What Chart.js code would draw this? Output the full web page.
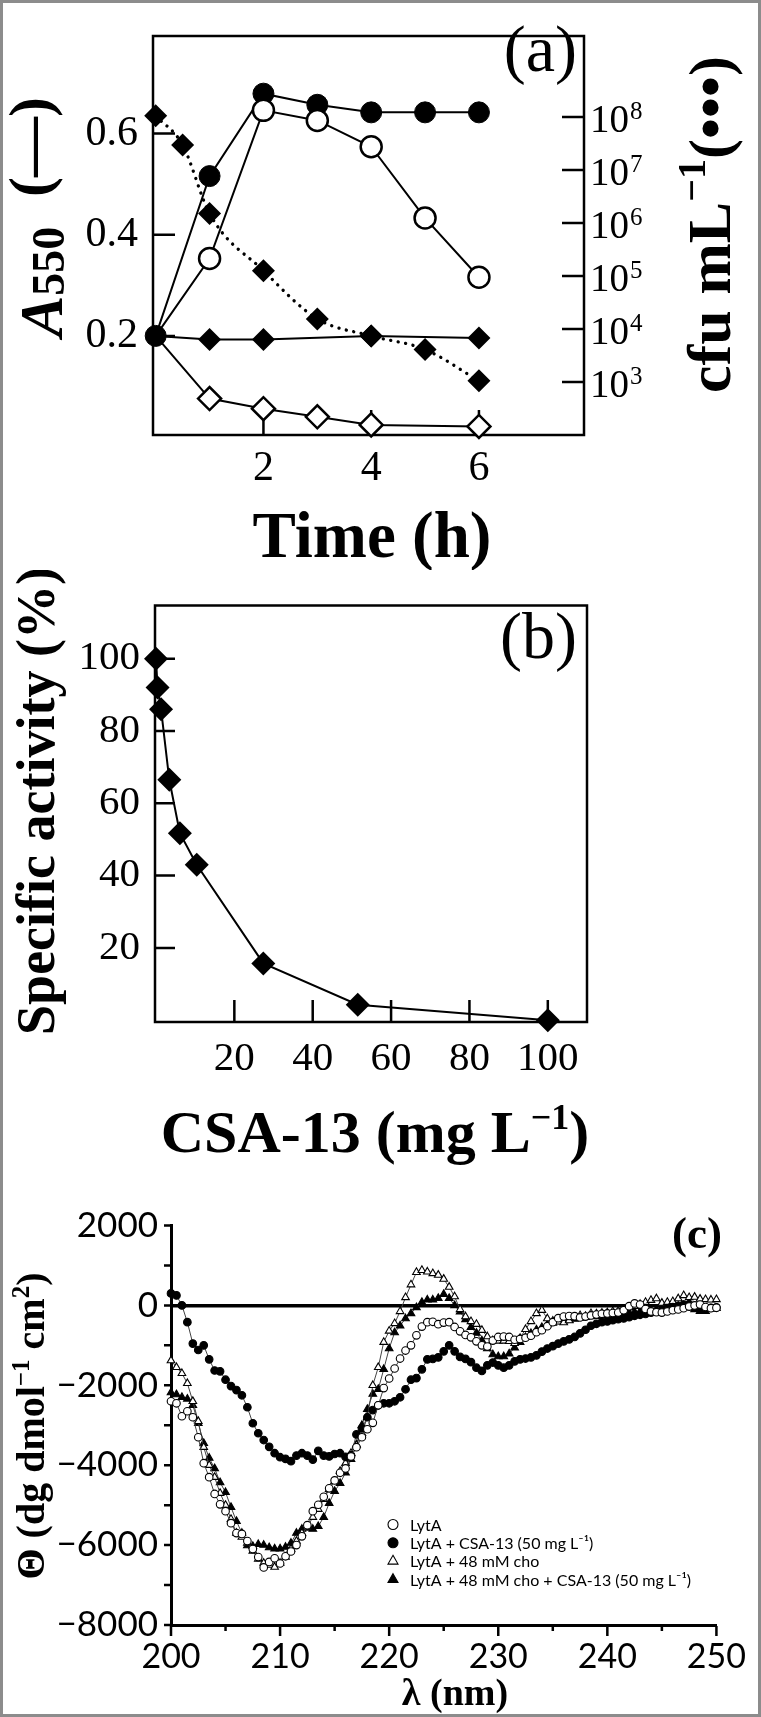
<!DOCTYPE html>
<html>
<head>
<meta charset="utf-8">
<script src="https://cdn.jsdelivr.net/npm/chart.js@4.4.1/dist/chart.umd.min.js"></script>
<style>
html,body{margin:0;padding:0;background:#fff;}
#wrap{position:relative;width:761px;height:1717px;overflow:hidden;background:#fff;}
canvas{position:absolute;left:0;}
#frame{position:absolute;left:0;top:0;width:761px;height:1717px;box-sizing:border-box;border:3px solid #8c8c8c;pointer-events:none;}
</style>
</head>
<body>
<div id="wrap">
<canvas id="ca" width="761" height="570" style="top:0px;width:761px;height:570px"></canvas>
<canvas id="cb" width="761" height="625" style="top:570px;width:761px;height:625px"></canvas>
<canvas id="cc" width="761" height="522" style="top:1195px;width:761px;height:522px"></canvas>
<div id="frame"></div>
</div>
<script>
// ---------------- Panel (a) data ----------------
const timeCircles = [0, 1, 2, 3, 4, 5, 6];
const a550FilledCircles = [0.2, 0.516, 0.679, 0.657, 0.642, 0.642, 0.642];
const a550OpenCircles = [0.2, 0.353, 0.646, 0.626, 0.574, 0.433, 0.316];
const timeSolidDiamonds = [0, 1, 2, 4, 6];
const a550SolidDiamonds = [0.2, 0.193, 0.193, 0.2, 0.196];
const timeOpenDiamonds = [0, 1, 2, 3, 4, 6];
const a550OpenDiamonds = [0.2, 0.076, 0.056, 0.040, 0.024, 0.021];
const timeCfu = [0, 0.5, 1, 2, 3, 4, 5, 6];
const cfuValues = [1.05e8, 2.95e7, 1.5e6, 1.26e5, 1.55e4, 7.4e3, 4.1e3, 1.05e3];
const timeTicks = [2, 4, 6];
const a550Ticks = [0.2, 0.4, 0.6];
const cfuTicks = [1e3, 1e4, 1e5, 1e6, 1e7, 1e8];

// ---------------- Panel (b) data ----------------
const csaConc = [0, 0.4, 1.3, 3.4, 6.1, 10.4, 27.4, 51.5, 100];
const specActivity = [100, 92, 86, 66.5, 51.7, 43, 15.7, 4.3, 0];
const csaTicks = [20, 40, 60, 80, 100];
const activityTicks = [20, 40, 60, 80, 100];

// ---------------- Panel (c) data ----------------
const wavelengths = [
200,200.5,201,201.5,202,202.5,203,203.5,204,204.5,
205,205.5,206,206.5,207,207.5,208,208.5,209,209.5,
210,210.5,211,211.5,212,212.5,213,213.5,214,214.5,
215,215.5,216,216.5,217,217.5,218,218.5,219,219.5,
220,220.5,221,221.5,222,222.5,223,223.5,224,224.5,
225,225.5,226,226.5,227,227.5,228,228.5,229,229.5,
230,230.5,231,231.5,232,232.5,233,233.5,234,234.5,
235,235.5,236,236.5,237,237.5,238,238.5,239,239.5,
240,240.5,241,241.5,242,242.5,243,243.5,244,244.5,
245,245.5,246,246.5,247,247.5,248,248.5,249,249.5,
250];
const thetaLytA = [
-2400,-2450,-2775,-2650,-2800,-3300,-3950,-4300,-4720,-4980,
-5150,-5450,-5700,-5720,-5900,-6100,-6300,-6560,-6420,-6330,
-6460,-6280,-6160,-6000,-5780,-5500,-5150,-4990,-4790,-4580,
-4380,-4190,-4080,-3780,-3550,-3300,-3100,-2940,-2500,-2070,
-1830,-1580,-1330,-1130,-1000,-750,-530,-420,-410,-470,
-430,-420,-540,-650,-740,-800,-900,-1000,-1030,-880,
-790,-780,-790,-860,-840,-810,-760,-670,-620,-520,
-420,-320,-280,-265,-270,-300,-280,-250,-230,-210,
-200,-190,-180,-120,-20,50,20,-90,-150,-170,
-180,-150,-120,-100,-70,-30,0,20,-40,-70,
-60];
const thetaLytACsa = [
300,250,0,-420,-955,-1116,-1000,-1350,-1630,-1650,
-1860,-2020,-2120,-2250,-2550,-2950,-3200,-3370,-3540,-3700,
-3800,-3840,-3900,-3760,-3700,-3760,-3860,-3640,-3760,-3780,
-3720,-3700,-3790,-3750,-3230,-3080,-2800,-2620,-2500,-2450,
-2450,-2400,-2300,-2100,-1860,-1820,-1600,-1350,-1340,-1300,
-1150,-1000,-1150,-1290,-1340,-1420,-1560,-1640,-1500,-1430,
-1500,-1560,-1500,-1400,-1350,-1330,-1300,-1250,-1157,-1080,
-1020,-955,-900,-850,-790,-700,-610,-510,-460,-420,
-400,-370,-345,-324,-295,-260,-235,-215,-180,-146,
-120,-80,-45,-10,20,30,-20,-70,-75,-60,
-50];
const thetaLytACho = [
-1380,-1550,-1700,-1950,-2400,-2900,-3550,-4000,-4300,-4700,
-5000,-5350,-5700,-5800,-5950,-6150,-6350,-6450,-6500,-6550,
-6450,-6300,-6100,-5900,-5700,-5550,-5300,-5100,-4850,-4600,
-4400,-4150,-3950,-3700,-3500,-3200,-2800,-2000,-1550,-920,
-640,-450,-150,200,520,830,880,840,800,760,
660,460,220,-100,-280,-400,-470,-620,-780,-880,
-890,-890,-900,-950,-820,-600,-400,-200,-120,-330,
-390,-410,-430,-380,-300,-250,-270,-200,-210,-190,
-180,-150,-140,-100,-60,-20,30,80,130,170,
60,80,100,170,250,200,210,160,150,140,
150];
const thetaLytAChoCsa = [
-2180,-2230,-2300,-2340,-2500,-2950,-3450,-3820,-4080,-4430,
-4680,-5050,-5400,-5700,-6010,-6030,-5980,-6000,-6060,-6090,
-6090,-6050,-5950,-5700,-5600,-5570,-5600,-5530,-5300,-4950,
-4650,-4450,-4190,-3850,-3480,-3000,-2600,-2220,-2100,-1600,
-1080,-680,-510,-330,-200,-50,80,140,140,180,
280,180,0,-160,-350,-550,-690,-880,-1080,-1230,
-1280,-1280,-1210,-1060,-920,-800,-700,-610,-550,-480,
-440,-405,-385,-370,-340,-315,-295,-280,-270,-255,
-243,-225,-208,-195,-180,-165,-155,-145,-130,-113,
-85,-60,-35,-20,0,-40,-100,-146,-146,-90,
-70];
const seriesLabels = ['LytA', 'LytA + CSA-13 (50 mg L\u207B\u00B9)', 'LytA + 48 mM cho', 'LytA + 48 mM cho + CSA-13 (50 mg L\u207B\u00B9)'];

// ---------------- helpers ----------------
const SERIF = '"Liberation Serif", "Times New Roman", serif';
const SANS = 'Lato, "Open Sans", "Liberation Sans", sans-serif';
function fnt(size, weight, style, fam) {
  return (style || 'normal') + ' ' + (weight || 'normal') + ' ' + size + 'px ' + (fam || SERIF);
}
function xy(xs, ys) { return xs.map((x, i) => ({x: x, y: ys[i]})); }
function drawPieces(ctx, x, y, angle, pieces, align) {
  ctx.save();
  ctx.translate(x, y);
  ctx.rotate(angle);
  ctx.textBaseline = 'alphabetic';
  ctx.textAlign = 'left';
  ctx.fillStyle = '#000';
  let total = 0;
  pieces.forEach(p => { ctx.font = p.f; p.w = ctx.measureText(p.t).width; total += p.w + (p.gap || 0); });
  let cx = align === 'center' ? -total / 2 : 0;
  pieces.forEach(p => { ctx.font = p.f; ctx.fillText(p.t, cx, p.dy || 0); cx += p.w + (p.gap || 0); });
  ctx.restore();
}
function fixedTicks(arr) { return s => { s.ticks = arr.map(v => ({value: v})); }; }

Chart.defaults.font.family = SERIF;
Chart.defaults.color = '#000';
const common = {
  responsive: false, animation: false, devicePixelRatio: 1, events: [],
  plugins: {legend: {display: false}, tooltip: {enabled: false}}
};
const noGrid = {display: false, drawTicks: false};
const noBorder = {display: false};

// ---------------- Panel (a) ----------------
const panelAPlugin = {
  id: 'panelA',
  beforeDatasetsDraw(chart) {
    const {ctx, chartArea: ca, scales} = chart;
    ctx.save();
    ctx.strokeStyle = '#000';
    ctx.lineWidth = 2.5;
    ctx.beginPath();
    a550Ticks.forEach(v => { const y = scales.y.getPixelForValue(v); ctx.moveTo(ca.left, y); ctx.lineTo(ca.left + 22, y); });
    cfuTicks.forEach(v => { const y = scales.y2.getPixelForValue(v); ctx.moveTo(ca.right, y); ctx.lineTo(ca.right - 22, y); });
    timeTicks.forEach(v => { const x = scales.x.getPixelForValue(v); ctx.moveTo(x, ca.bottom); ctx.lineTo(x, ca.bottom - 25); });
    ctx.stroke();
    ctx.strokeRect(ca.left, ca.top, ca.right - ca.left, ca.bottom - ca.top);
    ctx.restore();
  },
  afterDraw(chart) {
    const {ctx, scales} = chart;
    ctx.save();
    ctx.fillStyle = '#000';
    ctx.textAlign = 'left';
    ctx.textBaseline = 'alphabetic';
    cfuTicks.forEach(v => {
      const y = scales.y2.getPixelForValue(v);
      const e = Math.round(Math.log10(v));
      ctx.font = fnt(39);
      ctx.fillText('10', 590, y + 15);
      const w = ctx.measureText('10').width;
      ctx.font = fnt(25);
      ctx.fillText(String(e), 590 + w + 1, y + 2);
    });
    ctx.font = fnt(66);
    ctx.textAlign = 'right';
    ctx.fillText('(a)', 577, 71);
    ctx.restore();
    drawPieces(ctx, 62, 337, -Math.PI / 2, [
      {t: 'A', f: fnt(62, 'bold', 'italic')},
      {t: '550', f: fnt(46, 'bold'), dy: 2}
    ]);
    drawPieces(ctx, 50, 197, -Math.PI / 2, [{t: '(\u2014)', f: fnt(60, 'bold')}]);
    drawPieces(ctx, 730, 393, -Math.PI / 2, [
      {t: 'cfu mL', f: fnt(62, 'bold')},
      {t: '\u22121', f: fnt(40, 'bold'), dy: -25},
      {t: '(\u2022\u2022\u2022)', f: fnt(60, 'bold')}
    ]);
    drawPieces(ctx, 372, 557, 0, [{t: 'Time (h)', f: fnt(65, 'bold')}], 'center');
  }
};

const markerA = {borderColor: '#000', borderWidth: 2, clip: false, tension: 0};
new Chart(document.getElementById('ca'), {
  type: 'line',
  data: {datasets: [
    Object.assign({label: 'open circles', data: xy(timeCircles, a550OpenCircles), yAxisID: 'y',
      pointStyle: 'circle', pointRadius: c => c.dataIndex === 0 ? 0 : 10.5,
      pointBackgroundColor: '#fff', pointBorderColor: '#000', pointBorderWidth: 2.5}, markerA),
    Object.assign({label: 'filled circles', data: xy(timeCircles, a550FilledCircles), yAxisID: 'y',
      pointStyle: 'circle', pointRadius: 10.5,
      pointBackgroundColor: '#000', pointBorderColor: '#000', pointBorderWidth: 1}, markerA),
    {label: 'cfu', data: xy(timeCfu, cfuValues), yAxisID: 'y2', clip: false,
      borderColor: '#000', borderWidth: 3.3, borderDash: [0.1, 7.5], borderCapStyle: 'round',
      cubicInterpolationMode: 'monotone',
      pointStyle: 'rectRot', pointRadius: 11.5, pointBackgroundColor: '#000', pointBorderColor: '#000', pointBorderWidth: 0},
    Object.assign({label: 'solid diamonds', data: xy(timeSolidDiamonds, a550SolidDiamonds), yAxisID: 'y',
      pointStyle: 'rectRot', pointRadius: c => c.dataIndex === 0 ? 0 : 11.5,
      pointBackgroundColor: '#000', pointBorderColor: '#000', pointBorderWidth: 0}, markerA),
    Object.assign({label: 'open diamonds', data: xy(timeOpenDiamonds, a550OpenDiamonds), yAxisID: 'y',
      pointStyle: 'rectRot', pointRadius: c => c.dataIndex === 0 ? 0 : 11.5,
      pointBackgroundColor: '#fff', pointBorderColor: '#000', pointBorderWidth: 2.5}, markerA)
  ]},
  options: Object.assign({}, common, {
    layout: {padding: {top: 6, left: 0, right: 0, bottom: 0}},
    scales: {
      x: {type: 'linear', position: 'bottom', min: -0.05, max: 7.95, grid: noGrid, border: noBorder,
        afterBuildTicks: fixedTicks(timeTicks), afterFit: s => { s.height = 135; },
        ticks: {font: {family: SERIF, size: 42, lineHeight: 1}, padding: 13, color: '#000', autoSkip: false, maxRotation: 0}},
      y: {type: 'linear', position: 'left', min: 0.004, max: 0.793, grid: noGrid, border: noBorder,
        afterBuildTicks: fixedTicks(a550Ticks), afterFit: s => { s.width = 153; },
        ticks: {font: {family: SERIF, size: 42, lineHeight: 1}, padding: 15, color: '#000', autoSkip: false,
          callback: v => v.toFixed(1)}},
      y2: {type: 'logarithmic', position: 'right', min: 1e2, max: 3.357e9, grid: noGrid, border: noBorder,
        ticks: {display: false}, afterFit: s => { s.width = 177; }}
    }
  }),
  plugins: [panelAPlugin]
});

// ---------------- Panel (b) ----------------
const OB = 570;
const panelBPlugin = {
  id: 'panelB',
  beforeDatasetsDraw(chart) {
    const {ctx, chartArea: ca, scales} = chart;
    ctx.save();
    ctx.strokeStyle = '#000';
    ctx.lineWidth = 2.5;
    ctx.beginPath();
    activityTicks.forEach(v => { const y = scales.y.getPixelForValue(v); ctx.moveTo(ca.left, y); ctx.lineTo(ca.left + 20, y); });
    csaTicks.forEach(v => { const x = scales.x.getPixelForValue(v); ctx.moveTo(x, ca.bottom); ctx.lineTo(x, ca.bottom - 22); });
    ctx.stroke();
    ctx.strokeRect(ca.left, ca.top, ca.right - ca.left, ca.bottom - ca.top);
    ctx.restore();
  },
  afterDraw(chart) {
    const ctx = chart.ctx;
    ctx.save();
    ctx.fillStyle = '#000';
    ctx.font = fnt(66);
    ctx.textAlign = 'right';
    ctx.textBaseline = 'alphabetic';
    ctx.fillText('(b)', 577, 658 - OB);
    ctx.restore();
    drawPieces(ctx, 54, 801 - OB, -Math.PI / 2, [{t: 'Specific activity (%)', f: fnt(54, 'bold')}], 'center');
    drawPieces(ctx, 375, 1152 - OB, 0, [
      {t: 'CSA-13 (mg L', f: fnt(60, 'bold')},
      {t: '\u22121', f: fnt(36, 'bold'), dy: -23},
      {t: ')', f: fnt(60, 'bold')}
    ], 'center');
  }
};
new Chart(document.getElementById('cb'), {
  type: 'line',
  data: {datasets: [
    {label: 'specific activity', data: xy(csaConc, specActivity), clip: false, tension: 0,
      borderColor: '#000', borderWidth: 2,
      pointStyle: 'rectRot', pointRadius: 12, pointBackgroundColor: '#000', pointBorderColor: '#000', pointBorderWidth: 0}
  ]},
  options: Object.assign({}, common, {
    layout: {padding: {top: 23, left: 0, right: 174, bottom: 0}},
    scales: {
      x: {type: 'linear', position: 'bottom', min: -0.25, max: 110, grid: noGrid, border: noBorder,
        afterBuildTicks: fixedTicks(csaTicks), afterFit: s => { s.height = 173; },
        ticks: {font: {family: SERIF, size: 41, lineHeight: 1}, padding: 17, color: '#000', autoSkip: false, maxRotation: 0}},
      y: {type: 'linear', position: 'left', min: -0.5, max: 114.7, grid: noGrid, border: noBorder,
        afterBuildTicks: fixedTicks(activityTicks), afterFit: s => { s.width = 155; },
        ticks: {font: {family: SERIF, size: 41, lineHeight: 1}, padding: 15, color: '#000', autoSkip: false}}
    }
  }),
  plugins: [panelBPlugin]
});

// ---------------- Panel (c) ----------------
const OC = 1195;
function drawMarker(ctx, style, filled, x, y, r) {
  ctx.save();
  ctx.beginPath();
  if (style === 'circle') {
    ctx.arc(x, y, r, 0, Math.PI * 2);
  } else {
    ctx.moveTo(x, y - r * 1.15);
    ctx.lineTo(x + r, y + r * 0.6);
    ctx.lineTo(x - r, y + r * 0.6);
    ctx.closePath();
  }
  ctx.fillStyle = filled ? '#000' : '#fff';
  ctx.fill();
  ctx.lineWidth = 1.1;
  ctx.strokeStyle = '#000';
  ctx.stroke();
  ctx.restore();
}
const panelCPlugin = {
  id: 'panelC',
  beforeDatasetsDraw(chart) {
    const {ctx, chartArea: ca, scales} = chart;
    ctx.save();
    ctx.strokeStyle = '#000';
    ctx.lineWidth = 2.5;
    ctx.beginPath();
    scales.y.ticks.forEach(t => { const y = scales.y.getPixelForValue(t.value); ctx.moveTo(ca.left - 1, y); ctx.lineTo(ca.left - 7, y); });
    scales.x.ticks.forEach(t => {
      const x = scales.x.getPixelForValue(t.value);
      const len = t.value % 10 === 0 ? 11 : 6;
      ctx.moveTo(x, ca.bottom + 1); ctx.lineTo(x, ca.bottom + len);
    });
    ctx.stroke();
    ctx.restore();
  },
  afterDraw(chart) {
    const ctx = chart.ctx;
    ctx.save();
    ctx.fillStyle = '#000';
    ctx.font = fnt(45, 'bold');
    ctx.textAlign = 'right';
    ctx.textBaseline = 'alphabetic';
    ctx.fillText('(c)', 722, 1248 - OC);
    // legend
    ctx.font = '16px ' + SANS;
    ctx.textAlign = 'left';
    ctx.textBaseline = 'middle';
    chart.data.datasets.forEach((ds, i) => {
      const y = 1524.5 - OC + i * 18.3;
      drawMarker(ctx, ds.pointStyle, ds.pointBackgroundColor === '#000', 393, y, 5);
      ctx.fillStyle = '#000';
      ctx.fillText(ds.label, 410, y + 1);
    });
    ctx.restore();
    drawPieces(ctx, 44, 1426 - OC, -Math.PI / 2, [
      {t: '\u0398 (dg dmol', f: fnt(40, 'bold')},
      {t: '\u22121', f: fnt(25, 'bold'), dy: -15},
      {t: ' cm', f: fnt(40, 'bold')},
      {t: '2', f: fnt(25, 'bold'), dy: -15},
      {t: ')', f: fnt(40, 'bold')}
    ], 'center');
    drawPieces(ctx, 455, 1705 - OC, 0, [{t: '\u03BB (nm)', f: fnt(38, 'bold')}], 'center');
  }
};
function cdProps(style, filled) {
  return {
    clip: false, tension: 0, borderColor: '#444', borderWidth: 1,
    pointStyle: style, pointRadius: style === 'triangle' ? 4.4 : 3.8,
    pointBackgroundColor: filled ? '#000' : '#fff', pointBorderColor: '#000', pointBorderWidth: 1.1
  };
}
new Chart(document.getElementById('cc'), {
  type: 'line',
  data: {datasets: [
    Object.assign({label: seriesLabels[0], data: xy(wavelengths, thetaLytA)}, cdProps('circle', false)),
    Object.assign({label: seriesLabels[1], data: xy(wavelengths, thetaLytACsa)}, cdProps('circle', true)),
    Object.assign({label: seriesLabels[2], data: xy(wavelengths, thetaLytACho)}, cdProps('triangle', false)),
    Object.assign({label: seriesLabels[3], data: xy(wavelengths, thetaLytAChoCsa)}, cdProps('triangle', true))
  ]},
  options: Object.assign({}, common, {
    layout: {padding: {top: 20, left: 0, right: 35, bottom: 0}},
    scales: {
      x: {type: 'linear', position: 'bottom', min: 200, max: 250,
        grid: {display: false, drawTicks: false},
        border: {display: true, color: '#000', width: 3},
        afterFit: s => { s.height = 92; },
        ticks: {stepSize: 5, autoSkip: false, maxRotation: 0, padding: 15, color: '#000',
          font: {family: SANS, size: 34, lineHeight: 1},
          callback: v => (v % 10 === 0 ? String(v) : '')}},
      y: {type: 'linear', position: 'left', min: -8000, max: 2000,
        grid: {display: true, drawTicks: false, drawOnChartArea: true,
          color: c => (c.tick && c.tick.value === 0 ? '#000' : 'rgba(0,0,0,0)'),
          lineWidth: c => (c.tick && c.tick.value === 0 ? 3.5 : 0)},
        border: {display: true, color: '#000', width: 3},
        afterFit: s => { s.width = 171; },
        ticks: {stepSize: 1000, autoSkip: false, padding: 13, color: '#000',
          font: {family: SANS, size: 35, lineHeight: 1},
          callback: v => (v % 2000 === 0 ? (v < 0 ? '\u2212' + Math.abs(v) : String(v)) : '')}}
    }
  }),
  plugins: [panelCPlugin]
});
</script>
</body>
</html>
